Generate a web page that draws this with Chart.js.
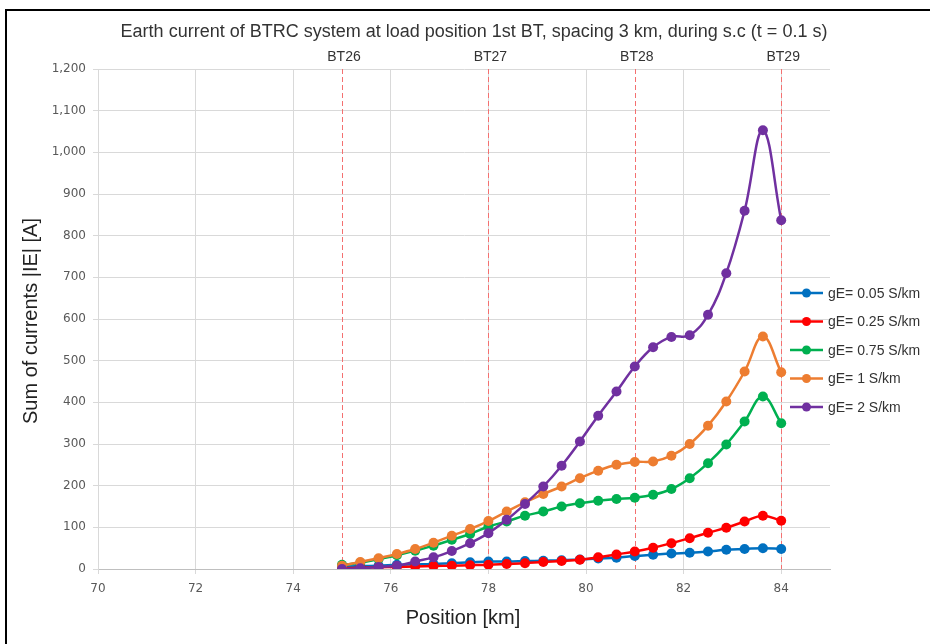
<!DOCTYPE html>
<html>
<head>
<meta charset="utf-8">
<script src="https://cdn.jsdelivr.net/npm/chart.js@4.4.0/dist/chart.umd.min.js"></script>
<style>
    html, body { margin: 0; padding: 0; background: #fff; overflow: hidden; }
    #wrap { position: relative; width: 930px; height: 644px; }
</style>
</head>
<body>
<div id="wrap"><canvas id="lineChart" width="930" height="644"></canvas></div>
<script>
// positions along the line [km]
var positions = [75, 75.375, 75.75, 76.125, 76.5, 76.875, 77.25, 77.625, 78, 78.375, 78.75, 79.125, 79.5,
    79.875, 80.25, 80.625, 81, 81.375, 81.75, 82.125, 82.5, 82.875, 83.25, 83.625, 84];

// earth current sums [A] for each gE value
var gE005 = [5, 7, 8, 10, 11, 12, 14, 16, 18, 18, 19, 20, 21, 23, 25, 27, 31, 34, 37, 39, 42, 46, 48, 50, 48];
var gE025 = [2, 3, 4, 5, 6, 7, 8, 9, 10, 12, 14, 17, 19, 22, 28, 35, 42, 51, 62, 74, 87, 99, 114, 128, 116];
var gE075 = [10, 15, 24, 33, 44, 56, 70, 84, 102, 114, 128, 138, 150, 158, 164, 168, 171, 178, 192, 218, 254, 299, 354, 414, 350];
var gE1 = [8, 17, 26, 36, 48, 63, 80, 96, 115, 138, 160, 180, 198, 218, 236, 250, 257, 258, 272, 300, 344, 402, 474, 558, 472];
var gE2 = [0, 2, 5, 8, 18, 28, 43, 62, 86, 118, 156, 198, 248, 306, 368, 426, 486, 532, 557, 561, 610, 710, 860, 1053, 837];

var seriesLabels = ['gE= 0.05 S/km', 'gE= 0.25 S/km', 'gE= 0.75 S/km', 'gE= 1 S/km', 'gE= 2 S/km'];
var seriesColors = ['#0070C0', '#FF0000', '#00B050', '#ED7D31', '#7030A0'];

// booster transformer positions
var btPositions = [75, 78, 81, 84];
var btLabels = ['BT26', 'BT27', 'BT28', 'BT29'];

var chartTitle = 'Earth current of BTRC system at load position 1st BT, spacing 3 km, during s.c (t = 0.1 s)';
var xTitle = 'Position [km]';
var yTitle = 'Sum of currents |IE| [A]';

function toPoints(values) {
    return values.map(function (v, i) { return { x: positions[i], y: v }; });
}

var allSeries = [gE005, gE025, gE075, gE1, gE2];

var overlayPlugin = {
    id: 'overlay',
    beforeDraw: function (chart) {
        var c = chart.ctx;
        c.save();
        c.fillStyle = '#fff';
        c.fillRect(0, 0, chart.width, chart.height);
        c.restore();
    },
    beforeDatasetsDraw: function (chart) {
        var c = chart.ctx;
        var xs = chart.scales.x;
        var area = chart.chartArea;
        c.save();
        c.strokeStyle = '#F47070';
        c.lineWidth = 1;
        c.setLineDash([5, 3]);
        btPositions.forEach(function (p) {
            var px = Math.round(xs.getPixelForValue(p)) + 0.5;
            c.beginPath();
            c.moveTo(px, area.top);
            c.lineTo(px, area.bottom);
            c.stroke();
        });
        c.restore();
    },
    afterDraw: function (chart) {
        var c = chart.ctx;
        var xs = chart.scales.x;
        c.save();

        // frame
        c.strokeStyle = '#000';
        c.lineWidth = 2;
        c.strokeRect(6, 10, 1000, 1000);

        // title
        c.fillStyle = '#333';
        c.textAlign = 'center';
        c.textBaseline = 'middle';
        c.font = '18px "Liberation Sans", Arial, sans-serif';
        c.fillText(chartTitle, 474, 32, 707);

        // BT labels
        c.font = '14px "Liberation Sans", Arial, sans-serif';
        btPositions.forEach(function (p, i) {
            c.fillText(btLabels[i], xs.getPixelForValue(p) + 2, 57, 38);
        });

        // axis titles
        c.fillStyle = '#222';
        c.font = '20px "Liberation Sans", Arial, sans-serif';
        c.fillText(xTitle, 463, 618);
        c.save();
        c.translate(31, 321);
        c.rotate(-Math.PI / 2);
        c.fillText(yTitle, 0, 0);
        c.restore();

        // legend
        c.textAlign = 'left';
        c.font = '14px "Liberation Sans", Arial, sans-serif';
        seriesLabels.forEach(function (label, i) {
            var y = 293 + i * 28.5;
            c.strokeStyle = seriesColors[i];
            c.lineWidth = 2.5;
            c.beginPath();
            c.moveTo(790, y);
            c.lineTo(823, y);
            c.stroke();
            c.fillStyle = seriesColors[i];
            c.beginPath();
            c.arc(806.5, y, 4.5, 0, Math.PI * 2);
            c.fill();
            c.fillStyle = '#333';
            c.fillText(label, 828, y + 1);
        });
        c.restore();
    }
};

var ctx = document.getElementById('lineChart').getContext('2d');
var lineChart = new Chart(ctx, {
    type: 'line',
    data: {
        datasets: allSeries.map(function (values, i) {
            return {
                label: seriesLabels[i],
                data: toPoints(values),
                borderColor: seriesColors[i],
                backgroundColor: seriesColors[i],
                pointBackgroundColor: seriesColors[i],
                pointBorderWidth: 0,
                pointRadius: 5,
                borderWidth: 2.5,
                tension: 0.4,
                fill: false,
                order: 4 - i
            };
        })
    },
    options: {
        responsive: false,
        animation: false,
        devicePixelRatio: 1,
        layout: {
            padding: { left: 0, top: 69, right: 100, bottom: 0 }
        },
        plugins: {
            legend: { display: false },
            tooltip: { enabled: false },
            title: { display: false }
        },
        scales: {
            x: {
                type: 'linear',
                min: 70,
                max: 85,
                ticks: {
                    stepSize: 2,
                    includeBounds: false,
                    color: '#595959',
                    padding: 8,
                    font: { size: 12, family: '"DejaVu Sans", sans-serif' }
                },
                grid: { color: '#d9d9d9', tickLength: 5, lineWidth: 1 },
                border: { color: '#bfbfbf' },
                afterFit: function (s) { s.height = 75; }
            },
            y: {
                min: 0,
                max: 1200,
                ticks: {
                    stepSize: 100,
                    color: '#595959',
                    padding: 7,
                    font: { size: 12, family: '"DejaVu Sans", sans-serif' },
                    callback: function (v) { return v.toLocaleString('en-US'); }
                },
                grid: { color: '#d9d9d9', tickLength: 5, lineWidth: 1 },
                border: { color: '#d9d9d9' },
                afterFit: function (s) { s.width = 98; }
            }
        }
    },
    plugins: [overlayPlugin]
});
</script>
</body>
</html>
